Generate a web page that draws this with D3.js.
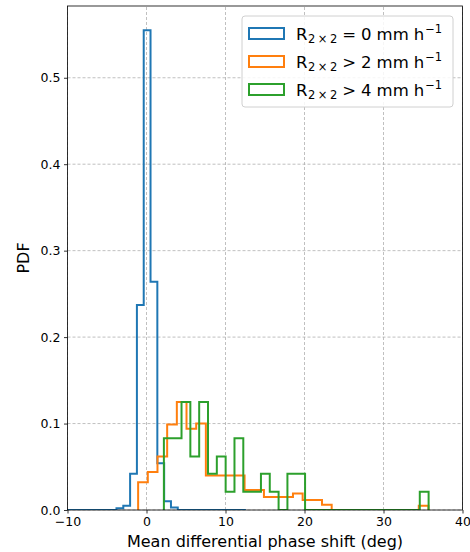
<!DOCTYPE html>
<html>
<head>
<meta charset="utf-8">
<script src="https://cdn.jsdelivr.net/npm/d3@7"></script>
<style>
  body { margin: 0; background: #fff; }
  svg { display: block; font-family: "DejaVu Sans", sans-serif; }
</style>
</head>
<body>
<svg id="chart" width="470" height="552"></svg>
<script>
// Histogram bins: first edge (deg), bin width (deg), density per bin
const blueStart = -10.696;
const blueWidth = 0.862;
const blueDensity = [0, 0, 0, 0, 0, 0, 0, 0,
  0.002, 0.005, 0.042, 0.237, 0.555, 0.264, 0.054, 0.010, 0.003,
  0, 0, 0, 0, 0, 0, 0, 0, 0, 0];

const orangeStart = -1.06;
const orangeWidth = 1.225;
const orangeDensity = [0.032, 0.044, 0.062, 0.099, 0.125, 0.094, 0.100, 0.040, 0.040, 0.040,
  0.040, 0.023, 0.023, 0.015, 0.015, 0.015, 0.019, 0.0115, 0.0115, 0.006,
  0, 0, 0, 0, 0, 0, 0, 0, 0, 0.005];

const greenStart = 2.2;
const greenWidth = 1.117;
const greenDensity = [0.083, 0.083, 0.125, 0.062, 0.125, 0.042, 0.062, 0.021, 0.083, 0.021,
  0.021, 0.042, 0.021, 0, 0.042, 0.042, 0, 0, 0, 0,
  0, 0, 0, 0, 0, 0, 0, 0, 0, 0.021];

const seriesColors = ["#1f77b4", "#ff7f0e", "#2ca02c"];
const seriesOps = ["=", ">", ">"];
const seriesThresholds = ["0", "2", "4"];

const xTicks = [-10, 0, 10, 20, 30, 40];
const yTicks = [0, 0.1, 0.2, 0.3, 0.4, 0.5];
const xDomain = [-10, 40];
const yDomain = [0, 0.583];

const margin = { left: 67.5, right: 7.5, top: 6, bottom: 42 };
const W = 470, H = 552;

const svg = d3.select("#chart");
const x = d3.scaleLinear().domain(xDomain).range([margin.left, W - margin.right]);
const y = d3.scaleLinear().domain(yDomain).range([H - margin.bottom, margin.top]);

// grid
const grid = svg.append("g").attr("stroke", "#b0b0b0").attr("stroke-width", 0.8)
  .attr("stroke-dasharray", "3,2");
grid.selectAll(".gx").data(xTicks).join("line")
  .attr("x1", d => x(d)).attr("x2", d => x(d))
  .attr("y1", y.range()[0]).attr("y2", y.range()[1]);
grid.selectAll(".gy").data(yTicks).join("line")
  .attr("y1", d => y(d)).attr("y2", d => y(d))
  .attr("x1", x.range()[0]).attr("x2", x.range()[1]);

// clip to plot area
svg.append("clipPath").attr("id", "plotClip").append("rect")
  .attr("x", x.range()[0]).attr("y", y.range()[1])
  .attr("width", x.range()[1] - x.range()[0])
  .attr("height", y.range()[0] - y.range()[1]);

// step outline of a histogram
function stepPoints(start, width, values) {
  const pts = [[start, 0]];
  values.forEach((v, i) => {
    pts.push([start + i * width, v]);
    pts.push([start + (i + 1) * width, v]);
  });
  pts.push([start + values.length * width, 0]);
  return pts;
}
const line = d3.line().x(d => x(d[0])).y(d => y(d[1]));

const series = [
  [blueStart, blueWidth, blueDensity],
  [orangeStart, orangeWidth, orangeDensity],
  [greenStart, greenWidth, greenDensity]
];
const hist = svg.append("g").attr("clip-path", "url(#plotClip)");
series.forEach((s, i) => {
  hist.append("path")
    .attr("d", line(stepPoints(s[0], s[1], s[2])))
    .attr("fill", "none")
    .attr("stroke", seriesColors[i])
    .attr("stroke-width", 2)
    .attr("stroke-linejoin", "miter");
});

// axes
const xAxis = svg.append("g").attr("transform", `translate(0,${y.range()[0]})`)
  .call(d3.axisBottom(x).tickValues(xTicks).tickSize(3.5).tickPadding(3.5));
const yAxis = svg.append("g").attr("transform", `translate(${x.range()[0]},0)`)
  .call(d3.axisLeft(y).tickValues(yTicks).tickFormat(d3.format(".1f")).tickSize(3.5).tickPadding(3.5));
[xAxis, yAxis].forEach(a => {
  a.select(".domain").remove();
  a.selectAll("text").attr("font-family", "DejaVu Sans").attr("font-size", 12.5).attr("fill", "#000");
  a.selectAll("line").attr("stroke", "#000").attr("stroke-width", 0.8);
});

// frame
svg.append("rect")
  .attr("x", x.range()[0]).attr("y", y.range()[1])
  .attr("width", x.range()[1] - x.range()[0])
  .attr("height", y.range()[0] - y.range()[1])
  .attr("fill", "none").attr("stroke", "#000").attr("stroke-width", 0.8);

// axis titles
svg.append("text")
  .attr("x", (x.range()[0] + x.range()[1]) / 2).attr("y", 546.5)
  .attr("text-anchor", "middle").attr("font-size", 16)
  .text("Mean differential phase shift (deg)");
svg.append("text")
  .attr("transform", `translate(28.5,${(y.range()[0] + y.range()[1]) / 2}) rotate(-90)`)
  .attr("text-anchor", "middle").attr("font-size", 16)
  .text("PDF");

// legend
const legend = svg.append("g");
legend.append("rect")
  .attr("x", 242).attr("y", 16).attr("width", 211).attr("height", 91)
  .attr("rx", 3).attr("fill", "#fff").attr("fill-opacity", 0.85)
  .attr("stroke", "#d0d0d0").attr("stroke-width", 1);
seriesColors.forEach((c, i) => {
  const cy = 33.5 + i * 28;
  legend.append("rect")
    .attr("x", 249).attr("y", cy - 5.5).attr("width", 35).attr("height", 11)
    .attr("fill", "none").attr("stroke", c).attr("stroke-width", 2);
  const t = legend.append("text").attr("x", 296).attr("y", cy + 6).attr("font-size", 16.5);
  t.append("tspan").text("R");
  t.append("tspan").attr("font-size", 11.5).attr("dx", 0.5).attr("dy", 3.5).text("2");
  t.append("tspan").attr("font-size", 11.5).attr("dx", 2.5).text("×");
  t.append("tspan").attr("font-size", 11.5).attr("dx", 2.5).text("2");
  t.append("tspan").attr("dy", -3.5).attr("dx", 5).text(seriesOps[i]);
  t.append("tspan").attr("dx", 5).text(seriesThresholds[i]);
  t.append("tspan").attr("dx", 5).text("mm");
  t.append("tspan").attr("dx", 5).text("h");
  t.append("tspan").attr("font-size", 11.5).attr("dx", 1).attr("dy", -6.5).text("−1");
});
</script>
</body>
</html>
